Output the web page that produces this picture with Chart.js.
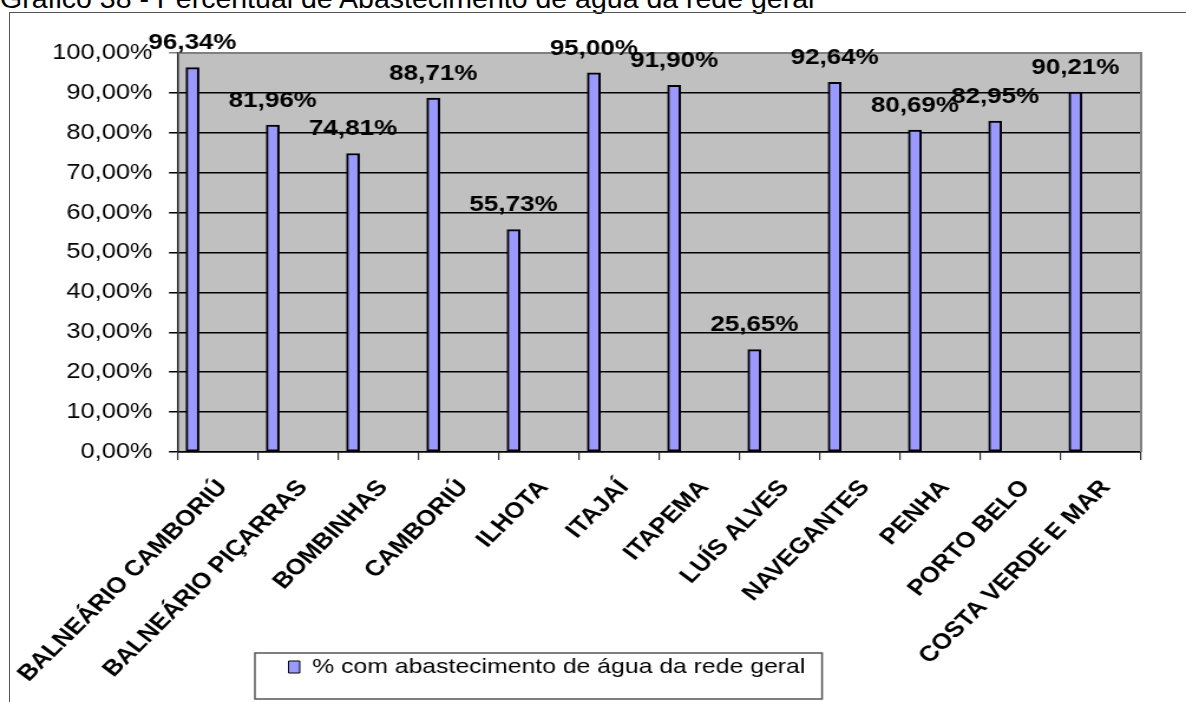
<!DOCTYPE html>
<html>
<head>
<meta charset="utf-8">
<script src="https://cdn.jsdelivr.net/npm/chart.js@4.4.1/dist/chart.umd.min.js"></script>
<style>
  html, body { margin: 0; padding: 0; background: #fff; width: 1186px; height: 702px; overflow: hidden; position: relative; }
  #titulo { position: absolute; left: 0; top: -16px; font: 28.5px "Liberation Sans", Arial, sans-serif; line-height: 28px; white-space: nowrap; color: #000; }
  #moldura { position: absolute; left: 9px; top: 12px; width: 1300px; height: 800px; border-left: 1.5px solid #555; border-top: 1.5px solid #555; }
  /* the chart is drawn on a 1005px-wide canvas and shown 1186px wide */
  #grafico { position: absolute; left: 0; top: 0; width: 1186px; height: 702px; }
</style>
</head>
<body>
<div id="titulo">Gráfico 38 - Percentual de Abastecimento de água da rede geral</div>
<div id="moldura"></div>
<canvas id="grafico" width="1005" height="702" style="width:1186px;height:702px"></canvas>
<script>
// Municípios e percentual de domicílios abastecidos pela rede geral
const municipios = [
  'BALNEÁRIO CAMBORIÚ', 'BALNEÁRIO PIÇARRAS', 'BOMBINHAS', 'CAMBORIÚ', 'ILHOTA', 'ITAJAÍ',
  'ITAPEMA', 'LUÍS ALVES', 'NAVEGANTES', 'PENHA', 'PORTO BELO', 'COSTA VERDE E MAR'
];
const percentualAbastecimento = [96.34, 81.96, 74.81, 88.71, 55.73, 95.00, 91.90, 25.65, 92.64, 80.69, 82.95, 90.21];
const rotuloSerie = '% com abastecimento de água da rede geral';
const eixoYMin = 0;
const eixoYMax = 100;
const eixoYPasso = 10;

const FONTE = '"Liberation Sans", Arial, sans-serif';
const fmtPct = v => v.toFixed(2).replace('.', ',') + '%';

// layout constants (canvas pixels)
const AREA_TOPO = 53, AREA_BASE = 452, AREA_ESQ = 150.8, MARGEM_DIR = 38;
const LEGENDA = { left: 216, top: 653, right: 696.6, bottom: 699, itemX: 244.5, itemTop: 656.5 };

// grey plot background and the grey top/right frame of the plot
const fundoPlot = {
  id: 'fundoPlot',
  beforeDraw(chart) {
    const { ctx, chartArea: a } = chart;
    ctx.save();
    ctx.fillStyle = '#c0c0c0';
    ctx.fillRect(a.left, a.top, a.right - a.left, a.bottom - a.top);
    ctx.restore();
  },
  beforeDatasetsDraw(chart) {
    const { ctx, chartArea: a } = chart;
    ctx.save();
    ctx.strokeStyle = '#808080';
    ctx.lineWidth = 2;
    ctx.beginPath();
    ctx.moveTo(a.left, a.top);
    ctx.lineTo(a.right, a.top);
    ctx.lineTo(a.right, a.bottom);
    ctx.stroke();
    ctx.restore();
  }
};

// bars sit at the start of each category band
const barrasNoInicio = {
  id: 'barrasNoInicio',
  afterDatasetsUpdate(chart) {
    const x = chart.scales.x;
    const banda = x.width / chart.data.labels.length;
    chart.getDatasetMeta(0).data.forEach(b => { b.x -= banda * 0.4 - b.width / 2; });
  }
};

// value labels above each bar
const rotulosValor = {
  id: 'rotulosValor',
  afterDatasetsDraw(chart) {
    const { ctx } = chart;
    const dados = chart.data.datasets[0].data;
    ctx.save();
    ctx.font = 'bold 22px ' + FONTE;
    ctx.fillStyle = '#000';
    ctx.textAlign = 'center';
    ctx.textBaseline = 'middle';
    chart.getDatasetMeta(0).data.forEach((b, i) => ctx.fillText(fmtPct(dados[i]), b.x, b.y - 24.5));
    ctx.restore();
  }
};

// legend placed under the plot with a framed box; the category labels may run down past it
const caixaLegenda = {
  id: 'caixaLegenda',
  afterLayout(chart) {
    const lg = chart.legend;
    const pad = lg.options.labels.padding;
    const w = lg.width;
    lg.left = LEGENDA.itemX - pad;
    lg.right = lg.left + w;
    lg.top = LEGENDA.itemTop - pad;
    lg.bottom = lg.top + lg.height;
    chart.scales.x.bottom = chart.height;
  },
  afterDraw(chart) {
    const { ctx } = chart;
    ctx.save();
    ctx.strokeStyle = '#555';
    ctx.lineWidth = 1.5;
    ctx.strokeRect(LEGENDA.left, LEGENDA.top, LEGENDA.right - LEGENDA.left, LEGENDA.bottom - LEGENDA.top);
    ctx.restore();
  }
};

new Chart(document.getElementById('grafico'), {
  type: 'bar',
  data: {
    labels: municipios,
    datasets: [{
      label: rotuloSerie,
      data: percentualAbastecimento,
      backgroundColor: '#9999ff',
      borderColor: '#000',
      borderWidth: 2,
      borderSkipped: false,
      barThickness: 11
    }]
  },
  options: {
    responsive: false,
    animation: false,
    events: [],
    layout: { padding: { top: AREA_TOPO, right: MARGEM_DIR, bottom: 0, left: 0 } },
    plugins: {
      tooltip: { enabled: false },
      title: { display: false },
      legend: {
        display: true,
        position: 'bottom',
        align: 'start',
        labels: {
          color: '#000',
          font: { family: FONTE, size: 21 },
          boxWidth: 9.5,
          boxHeight: 12,
          padding: 10,
          generateLabels(chart) {
            return Chart.defaults.plugins.legend.labels.generateLabels(chart).map(it => ({ ...it, lineWidth: 1 }));
          }
        }
      }
    },
    scales: {
      x: {
        offset: true,
        grid: { display: true, offset: true, drawOnChartArea: false, drawTicks: true, tickLength: 8, color: '#333', lineWidth: 1.2 },
        border: { display: true, color: '#000', width: 1.5 },
        ticks: {
          autoSkip: false,
          minRotation: 49,
          maxRotation: 49,
          padding: 15,
          labelOffset: 4,
          color: '#000',
          font: { family: FONTE, size: 22, weight: 'bold' }
        },
        afterFit(scale) {
          scale.height = scale.chart.height - scale.chart.legend.height - AREA_BASE;
          scale.paddingLeft = 0;
          scale.paddingRight = 0;
        }
      },
      y: {
        min: eixoYMin,
        max: eixoYMax,
        grid: {
          color: c => (c.tick && c.tick.value === eixoYMax ? '#808080' : '#000'),
          lineWidth: 1.5,
          tickLength: 7.6,
          drawTicks: true
        },
        border: { display: true, color: '#222', width: 1.5 },
        ticks: {
          stepSize: eixoYPasso,
          padding: 14,
          color: '#000',
          font: { family: FONTE, size: 21.5 },
          callback: v => fmtPct(v)
        },
        afterFit(scale) { scale.width = AREA_ESQ; scale.paddingTop = 0; scale.paddingBottom = 0; }
      }
    }
  },
  plugins: [fundoPlot, barrasNoInicio, rotulosValor, caixaLegenda]
});
</script>
</body>
</html>
